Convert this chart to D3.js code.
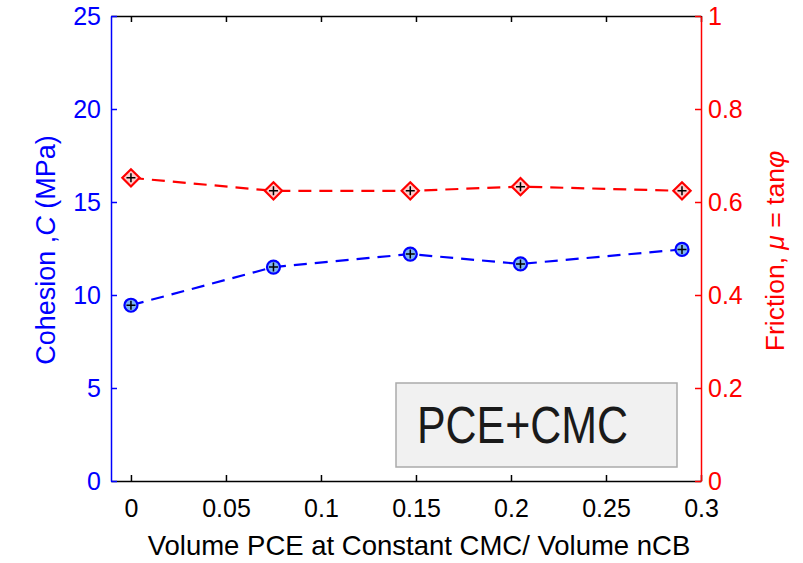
<!DOCTYPE html>
<html>
<head>
<meta charset="utf-8">
<script src="https://cdn.jsdelivr.net/npm/d3@7"></script>
<style>
  body { margin: 0; background: #fff; }
  text { font-family: "Liberation Sans", Arial, sans-serif; }
</style>
</head>
<body>
<div id="chart"></div>
<script>
// data
var volumePCE = [0, 0.075, 0.147, 0.205, 0.29];
var cohesion = [9.45, 11.5, 12.2, 11.67, 12.45];
var friction = [0.652, 0.624, 0.624, 0.633, 0.624];
var xTicks = [0, 0.05, 0.1, 0.15, 0.2, 0.25, 0.3];
var cTicks = [0, 5, 10, 15, 20, 25];
var fTicks = [0, 0.2, 0.4, 0.6, 0.8, 1];
var boxLabel = "PCE+CMC";

var W = 803, H = 563;
var margin = { left: 111, right: 701, top: 16, bottom: 481 };

var svg = d3.select("#chart").append("svg")
  .attr("width", W)
  .attr("height", H);

var x = d3.scaleLinear().domain([-0.0105, 0.3]).range([margin.left, margin.right]);
var yC = d3.scaleLinear().domain([0, 25]).range([margin.bottom, margin.top]);
var yF = d3.scaleLinear().domain([0, 1]).range([margin.bottom, margin.top]);

// bottom axis (ticks inward)
var xAxis = svg.append("g")
  .attr("transform", `translate(0,${margin.bottom})`)
  .call(d3.axisBottom(x).tickValues(xTicks).tickSizeInner(-6).tickSizeOuter(0)
    .tickFormat(d3.format("")));
xAxis.select(".domain").attr("stroke", "#000").attr("stroke-width", 1.5);
xAxis.selectAll(".tick line").attr("stroke", "#000").attr("stroke-width", 1.5);
xAxis.selectAll(".tick text")
  .attr("y", 18).attr("dy", "0.71em")
  .style("font-size", "25px").attr("fill", "#000");

// top border with ticks
var xTop = svg.append("g")
  .attr("transform", `translate(0,${margin.top})`)
  .call(d3.axisTop(x).tickValues(xTicks).tickSizeInner(-6).tickSizeOuter(0).tickFormat(""));
xTop.select(".domain").attr("stroke", "#000").attr("stroke-width", 1.5);
xTop.selectAll(".tick line").attr("stroke", "#000").attr("stroke-width", 1.5);

// left axis, cohesion (blue)
var yl = svg.append("g")
  .attr("transform", `translate(${margin.left},0)`)
  .call(d3.axisLeft(yC).tickValues(cTicks).tickSizeInner(-6).tickSizeOuter(0));
yl.select(".domain").attr("stroke", "#00f").attr("stroke-width", 1.5);
yl.selectAll(".tick line").attr("stroke", "#00f").attr("stroke-width", 1.5);
yl.selectAll(".tick text")
  .attr("x", -10)
  .style("font-size", "25px").attr("fill", "#00f");

// right axis, friction (red)
var yr = svg.append("g")
  .attr("transform", `translate(${margin.right},0)`)
  .call(d3.axisRight(yF).tickValues(fTicks).tickSizeInner(-6).tickSizeOuter(0)
    .tickFormat(d3.format("")));
yr.select(".domain").attr("stroke", "#f00").attr("stroke-width", 1.5);
yr.selectAll(".tick line").attr("stroke", "#f00").attr("stroke-width", 1.5);
yr.selectAll(".tick text")
  .attr("x", 7)
  .style("font-size", "25px").attr("fill", "#f00");

// axis labels
svg.append("text")
  .attr("x", 419)
  .attr("y", 555)
  .attr("text-anchor", "middle")
  .style("font-size", "27.5px")
  .attr("fill", "#000")
  .text("Volume PCE at Constant CMC/ Volume nCB");

var lblC = svg.append("text")
  .attr("transform", "translate(55,250) rotate(-90)")
  .attr("text-anchor", "middle")
  .style("font-size", "27px")
  .attr("fill", "#00f");
lblC.append("tspan").text("Cohesion ,");
lblC.append("tspan").style("font-style", "italic").text("C");
lblC.append("tspan").text(" (MPa)");

var lblF = svg.append("text")
  .attr("transform", "translate(784,251) rotate(-90)")
  .attr("text-anchor", "middle")
  .style("font-size", "26.5px")
  .attr("fill", "#f00");
lblF.append("tspan").text("Friction, ");
lblF.append("tspan").style("font-style", "italic").text("\u03bc");
lblF.append("tspan").text(" = tan");
lblF.append("tspan").style("font-style", "italic").text("\u03c6");

// dashed lines
var lineC = d3.line().x((d, i) => x(volumePCE[i])).y(d => yC(d));
var lineF = d3.line().x((d, i) => x(volumePCE[i])).y(d => yF(d));

svg.append("path")
  .datum(cohesion)
  .attr("d", lineC)
  .attr("fill", "none")
  .attr("stroke", "#00f")
  .attr("stroke-width", 2.2)
  .attr("stroke-dasharray", "13,8");

svg.append("path")
  .datum(friction)
  .attr("d", lineF)
  .attr("fill", "none")
  .attr("stroke", "#f00")
  .attr("stroke-width", 2.2)
  .attr("stroke-dasharray", "13,8");

// markers: circles for cohesion
svg.selectAll(".mc")
  .data(cohesion)
  .enter().append("circle")
  .attr("class", "mc")
  .attr("cx", (d, i) => x(volumePCE[i]))
  .attr("cy", d => yC(d))
  .attr("r", 6.5)
  .attr("fill", "#7db4f5")
  .attr("stroke", "#00f")
  .attr("stroke-width", 2.2);

// markers: diamonds for friction
var dia = d3.symbol().type(d3.symbolDiamond2).size(190);
svg.selectAll(".mf")
  .data(friction)
  .enter().append("path")
  .attr("class", "mf")
  .attr("transform", (d, i) => `translate(${x(volumePCE[i])},${yF(d)})`)
  .attr("d", dia)
  .attr("fill", "#ffcccc")
  .attr("stroke", "#f00")
  .attr("stroke-width", 2.2);

// black plus signs on every point
function drawPlus(vals, scale) {
  vals.forEach((v, i) => {
    var cx = x(volumePCE[i]), cy = scale(v);
    svg.append("path")
      .attr("d", `M${cx - 4.5},${cy}H${cx + 4.5}M${cx},${cy - 4.5}V${cy + 4.5}`)
      .attr("stroke", "#000")
      .attr("stroke-width", 1.5);
  });
}
drawPlus(cohesion, yC);
drawPlus(friction, yF);

// annotation box
svg.append("rect")
  .attr("x", 396).attr("y", 383)
  .attr("width", 281).attr("height", 84)
  .attr("fill", "#f1f1f1")
  .attr("stroke", "#aaa")
  .attr("stroke-width", 1.5);

svg.append("text")
  .attr("x", 417).attr("y", 443)
  .attr("textLength", 211)
  .attr("lengthAdjust", "spacingAndGlyphs")
  .style("font-size", "51px")
  .attr("fill", "#1a1a1a")
  .text(boxLabel);
</script>
</body>
</html>
